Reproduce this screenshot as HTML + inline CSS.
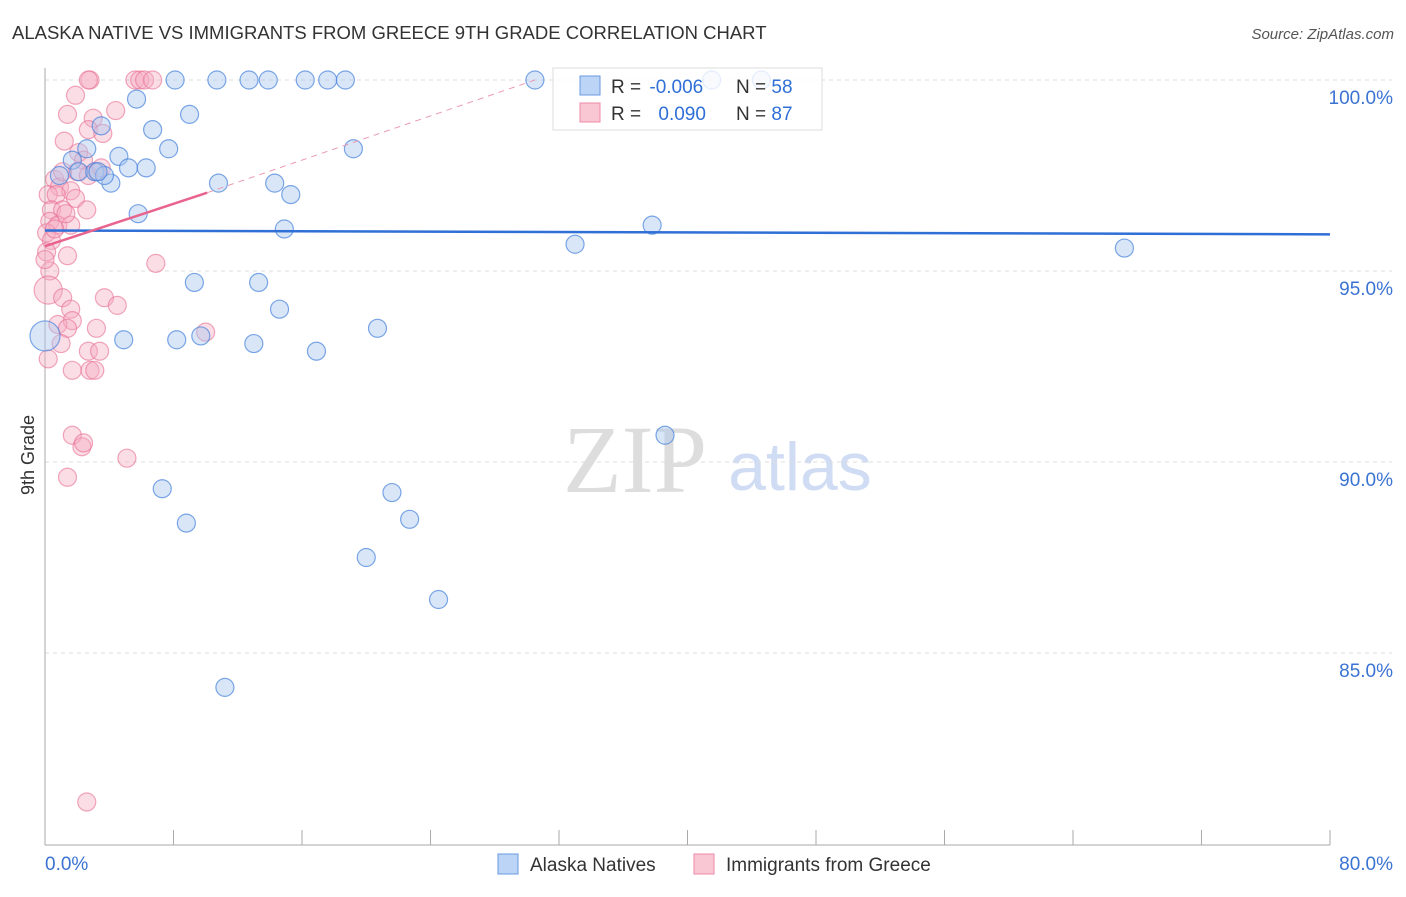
<!DOCTYPE html>
<html><head><meta charset="utf-8"><style>
body{margin:0;background:#fff;font-family:"Liberation Sans",sans-serif}
</style></head><body>
<svg id="c" width="1406" height="892" xmlns="http://www.w3.org/2000/svg">
<text x="12" y="39" font-size="18.5" fill="#333">ALASKA NATIVE VS IMMIGRANTS FROM GREECE 9TH GRADE CORRELATION CHART</text>
<text x="1394" y="39" font-size="15" fill="#555" font-style="italic" text-anchor="end">Source: ZipAtlas.com</text>
<text x="635" y="492" font-size="96" fill="#ddd" font-family="Liberation Serif" text-anchor="middle">ZIP</text>
<text x="800" y="490" font-size="68" fill="#cfdcf3" text-anchor="middle">atlas</text>
<text x="34" y="455" font-size="18" fill="#333" transform="rotate(-90 34 455)" text-anchor="middle">9th Grade</text>
<g id="grid"></g><g id="pts"></g><g id="trend"></g>
<g>
<rect x="553" y="68" width="269" height="62" fill="#fff" fill-opacity="0.8" stroke="#ddd"/>
<rect x="580" y="76" width="20" height="19" fill="#bcd4f5" stroke="#6a9ae0"/>
<rect x="580" y="103" width="20" height="19" fill="#f9c6d4" stroke="#ee88a6"/>
<text x="611" y="93" font-size="19" fill="#333">R = <tspan fill="#2f6fd6" dx="3">-0.006</tspan></text>
<text x="736" y="93" font-size="19" fill="#333">N = <tspan fill="#2f6fd6">58</tspan></text>
<text x="611" y="120" font-size="19" fill="#333">R = <tspan fill="#2f6fd6" dx="12">0.090</tspan></text>
<text x="736" y="120" font-size="19" fill="#333">N = <tspan fill="#2f6fd6">87</tspan></text>
</g>
<g>
<rect x="498" y="854" width="20" height="20" fill="#bcd4f5" stroke="#6a9ae0"/>
<text x="530" y="871" font-size="19" fill="#333">Alaska Natives</text>
<rect x="694" y="854" width="20" height="20" fill="#f9c6d4" stroke="#ee88a6"/>
<text x="726" y="871" font-size="19" fill="#333">Immigrants from Greece</text>
</g>
</svg>
<script>
const yTicks=[100,95,90,85];
const xTickLabels=["0.0%","80.0%"];
const blueX=[8.1,10.7,12.7,13.9,16.2,17.6,18.7,30.5,41.5,44.6,5.7,9.0,6.7,3.5,2.6,7.7,1.7,4.6,19.2,0.9,2.1,3.1,5.2,6.3,4.1,10.8,14.3,15.3,5.8,14.9,33.0,37.8,67.2,9.3,13.3,14.6,20.7,4.9,8.2,9.7,13.0,16.9,0,38.6,7.3,21.6,8.8,22.7,20.0,24.5,11.2,3.7,3.3];
const blueY=[100,100,100,100,100,100,100,100,100,100,99.5,99.1,98.7,98.8,98.2,98.2,97.9,98.0,98.2,97.5,97.6,97.6,97.7,97.7,97.3,97.3,97.3,97.0,96.5,96.1,95.7,96.2,95.6,94.7,94.7,94.0,93.5,93.2,93.2,93.3,93.1,92.9,93.3,90.7,89.3,89.2,88.4,88.5,87.5,86.4,84.1,97.5,97.6];
const pinkX=[2.8,2.7,5.6,5.9,6.2,6.7,1.9,4.4,1.4,3.0,2.7,1.2,3.6,2.1,2.4,2.0,3.2,2.7,0.6,0.9,1.6,0.2,0.7,1.9,0.4,1.1,2.6,0.3,0.8,1.6,0.1,0.4,1.4,0.1,0.3,0.2,1.1,3.7,4.5,1.6,1.7,0.8,1.4,3.2,10.0,1.0,2.7,3.4,0.2,1.7,2.8,3.1,6.9,1.7,2.3,2.4,5.1,1.4,2.6,1.1,1.3,0.6,0,3.5];
const pinkY=[100,100,100,100,100,100,99.6,99.2,99.1,99.0,98.7,98.4,98.6,98.1,97.9,97.6,97.6,97.5,97.4,97.2,97.1,97.0,97.0,96.9,96.6,96.6,96.6,96.3,96.2,96.2,96.0,95.8,95.4,95.5,95.0,94.5,94.3,94.3,94.1,94.0,93.7,93.6,93.5,93.5,93.4,93.1,92.9,92.9,92.7,92.4,92.4,92.4,95.2,90.7,90.4,90.5,90.1,89.6,81.1,97.6,96.5,96.1,95.3,97.7];
const blueTrend=[[0,96.06],[80,95.96]];
const pinkTrend=[[0,95.65],[10.1,97.05]];
const pinkDash=[[10.1,97.05],[30.5,100]];
const X=v=>45+v*(1285/80), Y=v=>80+(100-v)*38.2;
const NS="http://www.w3.org/2000/svg";
function mk(t,a,p){const e=document.createElementNS(NS,t);for(const k in a)e.setAttribute(k,a[k]);p.appendChild(e);return e;}
const g=document.getElementById('grid');
yTicks.forEach(t=>{
 const l=mk('line',{x1:45,x2:1392,y1:Y(t),y2:Y(t),stroke:'#ddd','stroke-dasharray':'4,4'},g);
 
 
 const tx=mk('text',{x:1393,y:Y(t)+24,'font-size':19,fill:'#3b73d3','text-anchor':'end'},g);
 tx.textContent=t.toFixed(1)+'%';
 
 
});
const ax=mk('line',{x1:45,x2:45,y1:68,y2:845,stroke:'#aaa'},g);


const bx=mk('line',{x1:45,x2:1330,y1:845,y2:845,stroke:'#aaa'},g);


for(let i=0;i<=10;i++){const t=mk('line',{x1:X(i*8),x2:X(i*8),y1:830,y2:845,stroke:'#aaa'},g);
 
 }
[[0,45,'start'],[80,1393,'end']].forEach((d,i)=>{const t=mk('text',{x:d[1],y:870,'font-size':19,fill:'#3b73d3','text-anchor':d[2]},g);t.textContent=xTickLabels[i];
 
 });
const p=document.getElementById('pts');
pinkX.forEach((x,i)=>{const c=mk('circle',{cx:X(x),cy:Y(pinkY[i]),r:(i==35?14:9),fill:'rgba(246,170,192,0.4)',stroke:'rgba(232,110,145,0.6)','stroke-width':1.2},p);
 
 });
blueX.forEach((x,i)=>{const c=mk('circle',{cx:X(x),cy:Y(blueY[i]),r:(i==42?15:9),fill:'rgba(170,200,240,0.45)',stroke:'rgba(70,130,220,0.7)','stroke-width':1.2},p);
 
 });
const tr=document.getElementById('trend');
const l1=mk('line',{x1:X(blueTrend[0][0]),y1:Y(blueTrend[0][1]),x2:X(blueTrend[1][0]),y2:Y(blueTrend[1][1]),stroke:'#2f6fd6','stroke-width':2.5},tr);


const l2=mk('line',{x1:X(pinkTrend[0][0]),y1:Y(pinkTrend[0][1]),x2:X(pinkTrend[1][0]),y2:Y(pinkTrend[1][1]),stroke:'#e8638d','stroke-width':2.5},tr);


const l3=mk('line',{x1:X(pinkDash[0][0]),y1:Y(pinkDash[0][1]),x2:X(pinkDash[1][0]),y2:Y(pinkDash[1][1]),stroke:'#eb9ab3','stroke-width':1,'stroke-dasharray':'6,5'},tr);


</script>
</body></html>
